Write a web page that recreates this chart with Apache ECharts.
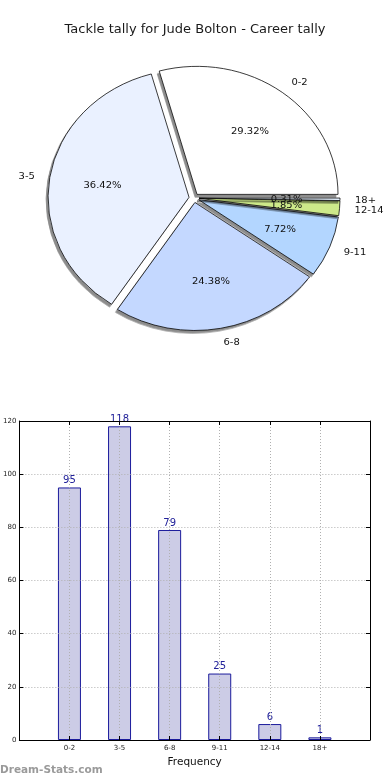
<!DOCTYPE html>
<html>
<head>
<meta charset="utf-8">
<script src="https://cdn.jsdelivr.net/npm/echarts@6/dist/echarts.min.js"></script>
<style>
html,body{margin:0;padding:0;background:#fff;}
#wrap{position:relative;width:390px;height:780px;overflow:hidden;}
#bar{position:absolute;left:0;top:0;width:390px;height:780px;}
#pie{position:absolute;left:0;top:0;width:390px;height:400px;transform-origin:194px 198px;transform:scaleY(0.908);}
</style>
</head>
<body>
<div id="wrap"><div id="bar"></div><div id="pie"></div></div>
<script>
const titleText = 'Tackle tally for Jude Bolton - Career tally';
const categories = ['0-2', '3-5', '6-8', '9-11', '12-14', '18+'];
const tackleCounts = [95, 118, 79, 25, 6, 1];
const sliceColors = ['#ffffff', '#eaf1ff', '#c4d8ff', '#b3d6ff', '#cde98a', '#e6f2ff'];
const yTicks = { min: 0, max: 120, interval: 20 };
const xAxisName = 'Frequency';
const watermark = 'Dream-Stats.com';

const FONT = 'DejaVu Sans';
const dotted = { color: '#b0b0b0', type: [1, 2], width: 1 };

// ---------- bar chart + title ----------
const bar = echarts.init(document.getElementById('bar'), null, { renderer: 'canvas' });
bar.setOption({
  backgroundColor: '#fff',
  animation: false,
  title: {
    text: titleText, left: 'center', top: 18,
    textStyle: { fontFamily: FONT, fontSize: 13, fontWeight: 'normal', color: '#1a1a1a' }
  },
  graphic: [{
    type: 'text', left: 0, top: 765,
    style: { text: watermark, fill: '#9a9a9a', font: 'bold 10.5px "DejaVu Sans"' }
  }],
  grid: { left: 19, right: 20, top: 421, bottom: 40, containLabel: false },
  xAxis: [{
    type: 'value', min: -1, max: 6, interval: 1, position: 'bottom', z: 5,
    axisLine: { show: true, onZero: false, lineStyle: { color: '#000', width: 1 } },
    axisTick: { show: true, inside: true, length: 4, lineStyle: { color: '#000' } },
    axisLabel: {
      fontFamily: FONT, fontSize: 7, color: '#222', margin: 5,
      formatter: v => (categories[v] !== undefined ? categories[v] : '')
    },
    splitLine: { show: true, lineStyle: dotted },
    name: xAxisName, nameLocation: 'middle', nameGap: 17,
    nameTextStyle: { fontFamily: FONT, fontSize: 10.5, color: '#111' }
  }, {
    type: 'value', min: -1, max: 6, interval: 1, position: 'top', z: 5,
    axisLine: { show: true, onZero: false, lineStyle: { color: '#000', width: 1 } },
    axisTick: { show: true, inside: true, length: 4, lineStyle: { color: '#000' } },
    axisLabel: { show: false }, splitLine: { show: false }
  }],
  yAxis: [{
    type: 'value', min: yTicks.min, max: yTicks.max, interval: yTicks.interval, position: 'left', z: 5,
    axisLine: { show: true, onZero: false, lineStyle: { color: '#000', width: 1 } },
    axisTick: { show: true, inside: true, length: 4, lineStyle: { color: '#000' } },
    axisLabel: { fontFamily: FONT, fontSize: 7, color: '#222', margin: 3 },
    splitLine: { show: true, lineStyle: dotted }
  }, {
    type: 'value', min: yTicks.min, max: yTicks.max, interval: yTicks.interval, position: 'right', z: 5,
    axisLine: { show: true, onZero: false, lineStyle: { color: '#000', width: 1 } },
    axisTick: { show: true, inside: true, length: 4, lineStyle: { color: '#000' } },
    axisLabel: { show: false }, splitLine: { show: false }
  }],
  series: [{
    type: 'bar', xAxisIndex: 0, yAxisIndex: 0, barWidth: 23, z: 2,
    data: categories.map((c, i) => [i, tackleCounts[i]]),
    itemStyle: { color: '#ccccE6', borderColor: '#1c1c9c', borderWidth: 1 },
    label: {
      show: true, position: 'top', distance: 2,
      fontFamily: FONT, fontSize: 10, color: '#22229a',
      formatter: p => String(p.value[1])
    },
    emphasis: { disabled: true }
  }]
});

// ---------- pie chart ----------
const pie = echarts.init(document.getElementById('pie'), null, { renderer: 'svg' });
const pieCenter = [194, 198];
const R = 141;
pie.setOption({
  animation: false,
  series: [{
    type: 'pie', center: pieCenter, radius: [0, R], startAngle: 0, clockwise: false,
    selectedMode: 'multiple', selectedOffset: 5, avoidLabelOverlap: false,
    emphasis: { disabled: true },
    itemStyle: {
      borderColor: '#000', borderWidth: 0.8,
      shadowColor: 'rgba(0,0,0,0.45)', shadowBlur: 1, shadowOffsetX: -2, shadowOffsetY: 3
    },
    select: { itemStyle: { borderColor: '#000', borderWidth: 0.8 } },
    label: {
      show: true, position: 'outside', fontFamily: FONT, fontSize: 10, color: '#111',
      distanceToLabelLine: 0, formatter: '{b}'
    },
    labelLine: { show: false, length: 15, length2: 0 },
    data: categories.map((c, i) => ({
      name: c, value: tackleCounts[i], selected: true,
      itemStyle: { color: sliceColors[i] },
      select: { itemStyle: { color: sliceColors[i] } }
    }))
  }, {
    type: 'pie', center: pieCenter, radius: [0, R * 1.2], startAngle: 0, clockwise: false,
    selectedMode: 'multiple', selectedOffset: 5, avoidLabelOverlap: false, silent: true,
    minShowLabelAngle: 0,
    emphasis: { disabled: true }, z: 3,
    itemStyle: { color: 'rgba(0,0,0,0)', borderWidth: 0 },
    select: { itemStyle: { color: 'rgba(0,0,0,0)', borderWidth: 0 } },
    label: {
      show: true, position: 'inside', fontFamily: FONT, fontSize: 10, color: '#111',
      formatter: '{d}%'
    },
    labelLayout: { hideOverlap: false },
    labelLine: { show: false },
    data: categories.map((c, i) => ({ name: c, value: tackleCounts[i], selected: true }))
  }]
});
</script>
</body>
</html>
